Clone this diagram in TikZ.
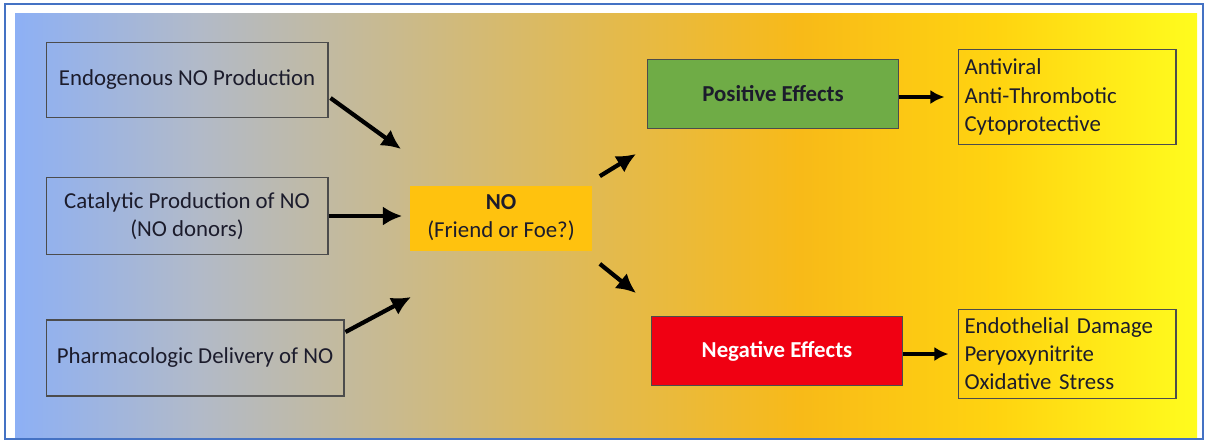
\documentclass[tikz,border=0pt]{standalone}
\usepackage{fontspec}
\setmainfont{Carlito}
\usetikzlibrary{arrows.meta}

\definecolor{azulmarco}{HTML}{4472C4}
\definecolor{verdepos}{HTML}{6FAC46}
\definecolor{rojoneg}{HTML}{F00012}
\definecolor{naranjano}{HTML}{FFC20E}
\definecolor{textoosc}{HTML}{1C1C2C}

\tikzset{
  estilo diagrama/.style={
      x=0.02cm, y=-0.02cm,
      caja/.style={draw=black!70, line width=0.6pt, inner sep=2pt, align=center, text=textoosc},
      lista/.style={caja, align=left, minimum width=4.36cm, text width=4.1cm},
      efecto/.style={draw=black!70, line width=0.6pt, minimum width=5.02cm, minimum height=1.37cm, font={\fontsize{13}{16}\selectfont\bfseries}},
      flecha/.style={-{Latex[length=11pt,width=11pt]}, line width=2.4pt, black},
      flechita/.style={-{Latex[length=8pt,width=8pt]}, line width=1.8pt, black},
      every node/.style={font={\fontsize{13}{16}\selectfont}},
    },
}

\begin{document}
\begin{tikzpicture}[estilo diagrama]
  \useasboundingbox (0,0) rectangle (1206,441);
  \shade[left color={rgb,255:red,141;green,176;blue,245}, right color={rgb,255:red,178;green,186;blue,200}] (15,13) rectangle (200,437);
  \shade[left color={rgb,255:red,178;green,186;blue,200}, right color={rgb,255:red,202;green,186;blue,140}] (199.5,13) rectangle (400,437);
  \shade[left color={rgb,255:red,202;green,186;blue,140}, right color={rgb,255:red,226;green,186;blue,80}] (399.5,13) rectangle (600,437);
  \shade[left color={rgb,255:red,226;green,186;blue,80}, right color={rgb,255:red,248;green,186;blue,24}] (599.5,13) rectangle (800,437);
  \shade[left color={rgb,255:red,248;green,186;blue,24}, right color={rgb,255:red,255;green,212;blue,16}] (799.5,13) rectangle (1000,437);
  \shade[left color={rgb,255:red,255;green,212;blue,16}, right color={rgb,255:red,255;green,252;blue,30}] (999.5,13) rectangle (1197,437);
  \draw[azulmarco, line width=1.2pt] (5,4) rectangle (1203,439);

  \node[caja, minimum width=5.64cm, minimum height=1.5cm] (endo) at (187,80) {Endogenous NO Production};
  \node[caja, minimum width=5.64cm, minimum height=1.54cm] (cata) at (187,216) {Catalytic Production of NO\\(NO donors)};
  \node[caja, minimum width=5.96cm, minimum height=1.52cm] (farma) at (195,358) {Pharmacologic Delivery of NO};

  \node[fill=naranjano, minimum width=3.66cm, minimum height=1.3cm, align=center, text=textoosc] (no) at (501,218) {\textbf{NO}\\(Friend or Foe?)};

  \node[efecto, fill=verdepos, text=textoosc] (pos) at (773,94) {Positive Effects};
  \node[efecto, fill=rojoneg, text=white] (neg) at (777,351) {Negative Effects};

  \node[lista, minimum height=1.9cm] (listapos) at (1067,97) {Antiviral\\Anti-Thrombotic\\Cytoprotective};
  \node[lista, minimum height=1.78cm] (listaneg) at (1067,354) {Endothelial Damage\\Peryoxynitrite\\Oxidative Stress};

  \coordinate (p1) at (401,149);
  \coordinate (p3) at (411,297);
  \coordinate (p4) at (636,154);
  \coordinate (p5) at (636,293);

  \draw[flecha] (endo.east) ++(2,18) -- (p1);
  \draw[flecha, shorten >=7*0.02cm] (cata.east) -- (cata.east -| no.west);
  \draw[flecha] (farma.east) ++(1,-26) -- (p3);
  \draw[flecha] (no.north east) ++(7,-9) -- (p4);
  \draw[flecha] (no.south east) ++(7,13) -- (p5);
  \draw[flechita, shorten >=13*0.02cm] (pos.east |- listapos.west) -- (listapos.west);
  \draw[flechita, shorten >=9*0.02cm] (neg.east |- listaneg.west) -- (listaneg.west);
\end{tikzpicture}
\end{document}
